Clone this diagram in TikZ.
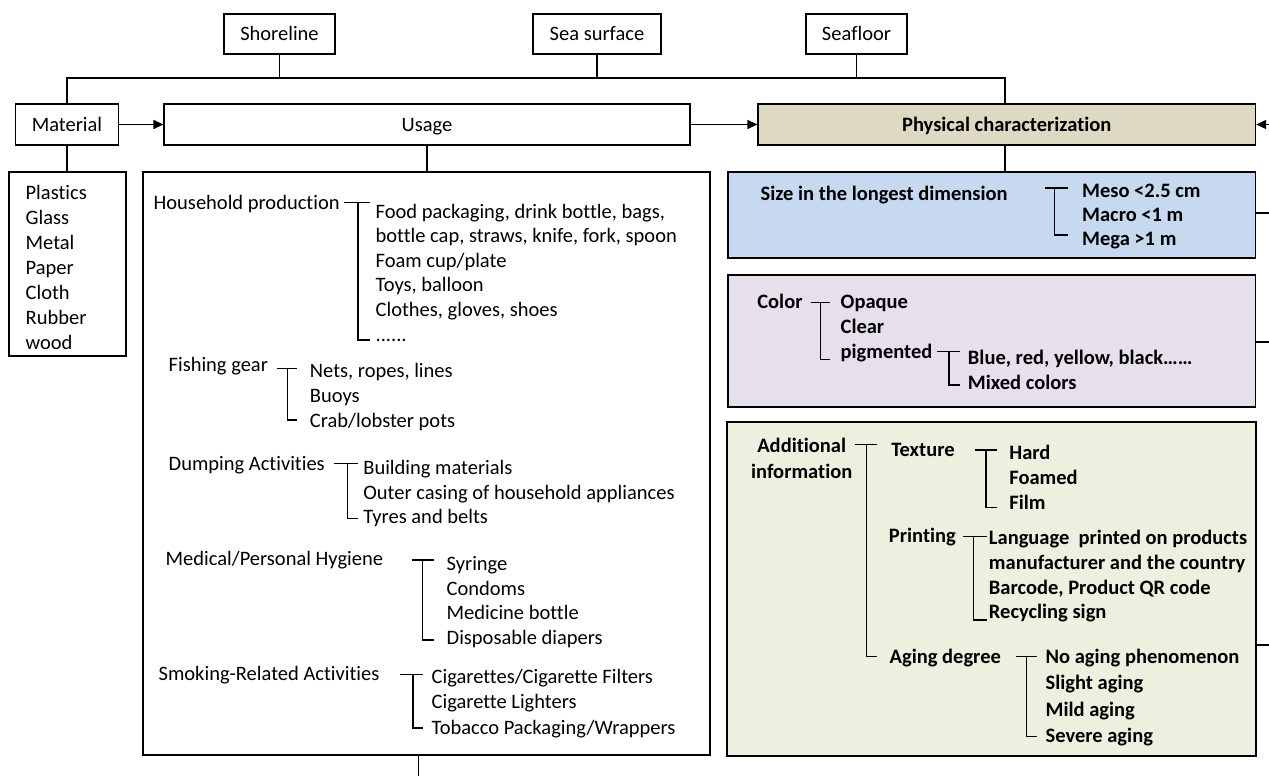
\documentclass[tikz,border=0pt]{standalone}
\usepackage{fontspec}
\setmainfont{Carlito}[Ligatures={TeX,NoCommon}]
\usetikzlibrary{arrows.meta}
\definecolor{tanfill}{HTML}{DDD9C3}
\definecolor{bluefill}{HTML}{C6D9F1}
\definecolor{purplefill}{HTML}{E5E0EC}
\definecolor{greenfill}{HTML}{EBF1DE}
\newcommand\brkt[5]{\draw (#1,#4) -- (#3,#4) (#2,#4) -- (#2,#5) -- (#3,#5);}
\begin{document}
\begin{tikzpicture}[x=1pt,y=-1pt,line width=1.3pt,
  box/.style={draw,rectangle,inner sep=0pt,text height=15pt,text depth=2pt,font=\fontsize{20.5}{24}\selectfont},
  txt/.style={anchor=base west,inner sep=0pt,font=\fontsize{20.5}{24}\selectfont},
  btxt/.style={anchor=base west,inner sep=0pt,font=\fontsize{20.5}{24}\selectfont\bfseries},
  arr/.style={-{Triangle[length=10pt,width=9pt]}}]
\useasboundingbox (0,0) rectangle (1269,776);
% top boxes
\node[box,minimum width=111pt,minimum height=40pt] (shore) at (279.5,34) {Shoreline};
\node[box,minimum width=128pt,minimum height=40pt] (sea) at (597,34) {Sea surface};
\node[box,minimum width=101pt,minimum height=40pt] (floor) at (856.5,34) {Seafloor};
% row
\node[box,minimum width=103pt,minimum height=41pt] (mat) at (67,124.5) {Material};
\node[box,minimum width=526pt,minimum height=41pt] (usage) at (427,124.5) {Usage};
\node[box,fill=tanfill,minimum width=497.5pt,minimum height=41pt,font=\fontsize{20.5}{24}\selectfont\bfseries] (phys) at (1006.75,124.5) {Physical characterization};
% list boxes
\node[box,minimum width=117pt,minimum height=184pt] (matlist) at (67.5,264) {};
\node[box,minimum width=567pt,minimum height=583pt] (ulist) at (426.5,463.5) {};
\node[box,fill=bluefill,minimum width=527.5pt,minimum height=86pt] (blue) at (991.75,215) {};
\node[box,fill=purplefill,minimum width=527.5pt,minimum height=132pt] (purple) at (991.75,341) {};
\node[box,fill=greenfill,minimum width=529pt,minimum height=334pt] (green) at (991.5,589) {};
% connectors
\coordinate (hl) at (0,78);
\draw (shore.south) -- (shore.south |- hl);
\draw (sea.south) -- (sea.south |- hl);
\draw (floor.south) -- (floor.south |- hl);
\coordinate (pj) at (1005,78);
\draw (mat.north) -- (mat.north |- hl) -- (pj) -- (pj |- phys.north);
\draw[arr] (mat.east) -- (usage.west);
\draw[arr] (usage.east) -- (phys.west);
\coordinate (rin) at (1269,124.5);
\draw[arr] (rin) -- (phys.east);
\draw (mat.south) -- (mat.south |- matlist.north);
\draw (usage.south) -- (usage.south |- ulist.north);
\draw (pj |- phys.south) -- (pj |- blue.north);
\coordinate (bot) at (418.5,776);
\draw (bot |- ulist.south) -- (bot);
\coordinate (rb) at (1269,213);
\draw (rb -| blue.east) -- (rb);
\coordinate (rp) at (1269,342);
\draw (rp -| purple.east) -- (rp);
\coordinate (rg) at (1269,645);
\draw (rg -| green.east) -- (rg);
% material list
\foreach \t [count=\i] in {Plastics,Glass,Metal,Paper,Cloth,Rubber,wood}
  \node[txt] (m\i) at ({25},{199.2+(\i-1)*25}) {\t};
% usage list
\node[txt] (hh) at (153,209) {Household production};
\brkt{344}{358}{370}{202.5}{340}
\foreach \t [count=\i] in {{Food packaging, drink bottle, bags,},{bottle cap, straws, knife, fork, spoon},{Foam cup/plate},{Toys, balloon},{Clothes, gloves, shoes}}
  \node[txt] (hh\i) at ({375},{218+(\i-1)*24.6}) {\t};
\node[txt] (hh6) at (375,341) {......};
\node[txt] (fg) at (168,371.5) {Fishing gear};
\brkt{276.7}{287.7}{296.7}{368.3}{420}
\foreach \t [count=\i] in {{Nets, ropes, lines},{Buoys},{Crab/lobster pots}}
  \node[txt] (fg\i) at ({309.3},{377.2+(\i-1)*25}) {\t};
\node[txt] (dp) at (168,470.5) {Dumping Activities};
\brkt{334.3}{347.3}{358}{463.3}{518.3}
\foreach \t [count=\i] in {{Building materials},{Outer casing of household appliances},{Tyres and belts}}
  \node[txt] (dp\i) at ({362.7},{474.2+(\i-1)*24.8}) {\t};
\node[txt] (md) at (165,565.5) {Medical/Personal Hygiene};
\brkt{411.7}{422.3}{434}{560}{640}
\foreach \t [count=\i] in {{Syringe},{Condoms},{Medicine bottle},{Disposable diapers}}
  \node[txt] (md\i) at ({446},{570.5+(\i-1)*24.7}) {\t};
\node[txt] (sm) at (158,680.5) {Smoking-Related Activities};
\brkt{400}{413}{423}{674.5}{728}
\foreach \t [count=\i] in {{Cigarettes/Cigarette Filters},{Cigarette Lighters},{Tobacco Packaging/Wrappers}}
  \node[txt] (sm\i) at ({431},{683+(\i-1)*25.8}) {\t};
% blue
\node[btxt] (sz) at (760,200) {Size in the longest dimension};
\brkt{1045}{1054.5}{1068}{188}{235}
\foreach \t [count=\i] in {{Meso <2.5 cm},{Macro <1 m},{Mega >1 m}}
  \node[btxt] (sz\i) at ({1081.5},{197.5+(\i-1)*24}) {\t};
% purple
\node[btxt] (col) at (756.7,308.8) {Color};
\brkt{810.7}{820.7}{830}{302.3}{359.3}
\foreach \t [count=\i] in {{Opaque},{Clear},{pigmented}}
  \node[btxt] (col\i) at ({840},{308.8+(\i-1)*24.7}) {\t};
\brkt{937.3}{949}{960}{351.7}{385}
\node[btxt] (pg1) at (967.3,364.8) {Blue, red, yellow, black……};
\node[btxt] (pg2) at (967.3,389.8) {Mixed colors};
% green
\node[anchor=base,inner sep=0pt,font=\fontsize{20.5}{24}\selectfont\bfseries] (ad1) at (801.7,452.2) {Additional};
\node[anchor=base,inner sep=0pt,font=\fontsize{20.5}{24}\selectfont\bfseries] (ad2) at (801.7,478.2) {information};
\brkt{855}{866.7}{877}{444.5}{656.7}
\node[btxt] (tx) at (890.7,456.5) {Texture};
\brkt{975}{986}{997.3}{450}{507.3}
\foreach \t [count=\i] in {{Hard},{Foamed},{Film}}
  \node[btxt] (tx\i) at ({1008.7},{459.2+(\i-1)*25}) {\t};
\node[btxt] (pr) at (888.3,542.2) {Printing};
\brkt{962.7}{973.3}{986.7}{536.7}{620}
\foreach \t [count=\i] in {{Language\ \ printed on products},{manufacturer and the country},{Barcode, Product QR code},{Recycling sign}}
  \node[btxt] (pr\i) at ({988.3},{544.8+(\i-1)*24.7}) {\t};
\node[btxt] (ag) at (889,663) {Aging degree};
\brkt{1016}{1026.4}{1037}{656.7}{736.7}
\foreach \t [count=\i] in {{No aging phenomenon},{Slight aging},{Mild aging},{Severe aging}}
  \node[btxt] (ag\i) at ({1045},{663.5+(\i-1)*26.3}) {\t};
\end{tikzpicture}
\end{document}
